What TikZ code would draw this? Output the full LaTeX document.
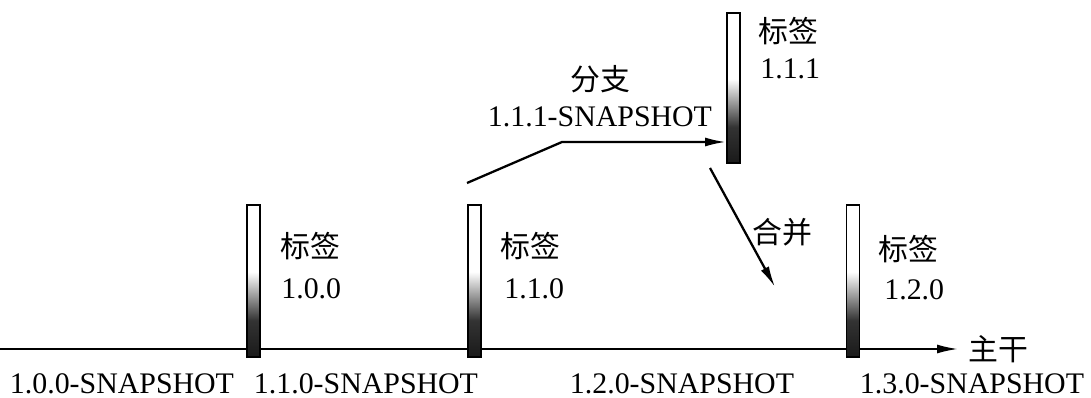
\documentclass[tikz,border=0pt]{standalone}
\usepackage{fontspec}
\setmainfont{Liberation Serif}
\newfontfamily\cjk{Noto Sans CJK SC}
\usetikzlibrary{arrows.meta}
\pgfdeclareverticalshading{tagshade}{100bp}{color(0bp)=(black!90); color(25bp)=(black!90); color(37bp)=(black!80); color(53bp)=(white); color(100bp)=(white)}
\tikzset{
  tagbar/.style={draw, line width=1.1pt, shading=tagshade, minimum width=0.26cm, minimum height=3.04cm, inner sep=0pt},
  txt/.style={font=\fontsize{17}{20}\selectfont, inner sep=0pt},
  zh/.style={font=\cjk\fontsize{17}{20}\selectfont, inner sep=0pt},
  arr/.style={line width=1.3pt, -{Latex[length=0.42cm,width=0.18cm]}}
}
\begin{document}
\begin{tikzpicture}[x=0.02cm,y=-0.02cm]
\useasboundingbox (0,0) rectangle (1091,398);

% trunk
   \coordinate (trunk0) at (0,349);
   \node[zh,anchor=west] at (968,349) (trunk) {主干};
   \draw[arr,line width=1.1pt,shorten >=0.2cm] (trunk0) -- (trunk.west);

% tags
   \node[tagbar] at (253.5,281) (bar100) {};
   \node[tagbar] at (474.5,281) (bar110) {};
   \node[tagbar,minimum height=3cm] at (733.5,88) (bar111) {};
   \node[tagbar] at (853,281) (bar120) {};

   \node[zh,anchor=base west] at (280,258) (t100) {标签};
   \node[txt,anchor=base west] at (281,298) (v100) {1.0.0};
   \node[zh,anchor=base west] at (500,258) (t110) {标签};
   \node[txt,anchor=base west] at (504,298) (v110) {1.1.0};
   \node[zh,anchor=base west] at (758,43) (t111) {标签};
   \node[txt,anchor=base west] at (760,79) (v111) {1.1.1};
   \node[zh,anchor=base west] at (878,261) (t120) {标签};
   \node[txt,anchor=base west] at (884,299) (v120) {1.2.0};

% snapshots
   \node[txt,anchor=base] at (122,393) (s100) {1.0.0-SNAPSHOT};
   \node[txt,anchor=base] at (366,393) (s110) {1.1.0-SNAPSHOT};
   \node[txt,anchor=base] at (682,393) (s120) {1.2.0-SNAPSHOT};
   \node[txt,anchor=base] at (972,393) (s130) {1.3.0-SNAPSHOT};

% branch
   \coordinate (brstart) at (467,183);
   \coordinate (brbend) at (562,142);
   \draw[arr] (brstart) -- (brbend) -- (bar111.west |- brbend);
   \node[zh,anchor=base] at (600,91) (branch) {分支};
   \node[txt,anchor=base] at (600,127) (s111) {1.1.1-SNAPSHOT};

% merge
   \coordinate (mgstart) at (710,168);
   \coordinate (mgend) at (775,287);
   \draw[arr] (mgstart) -- (mgend);
   \node[zh,anchor=base] at (782,244) (merge) {合并};

\end{tikzpicture}
\end{document}
